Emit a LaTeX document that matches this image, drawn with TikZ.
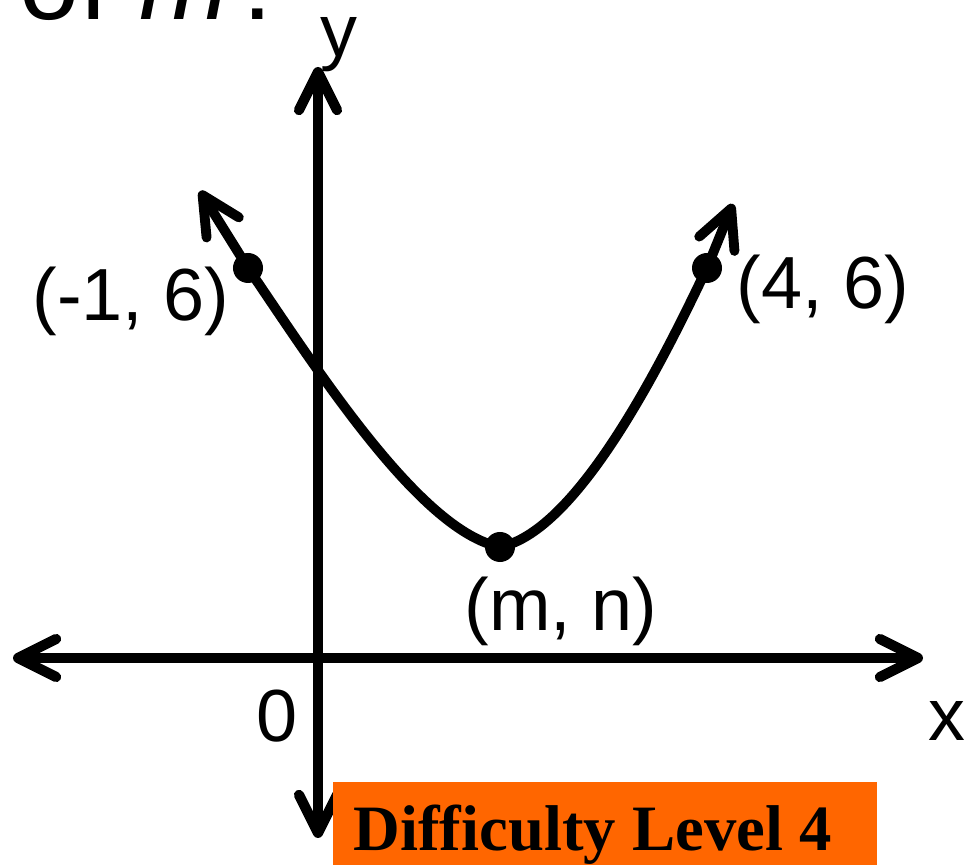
\documentclass[tikz,border=0pt]{standalone}
\usepackage{fontspec}
\setmainfont{Liberation Sans}
\newfontfamily\levelfont{Liberation Serif}
\usepackage{xcolor}
\usepackage{tikz}
\usetikzlibrary{arrows.meta, positioning}
\definecolor{levelorange}{RGB}{255,102,0}
\tikzset{
  axisline/.style={line width=2.9pt, <->},
  curveline/.style={line width=2.8pt, <->},
  dot/.style={circle, fill=black, inner sep=0pt, minimum size=0.3cm},
  coordlabel/.style={font=\fontsize{21}{25}\selectfont, inner sep=0pt},
  heading/.style={font=\fontsize{30.7}{36}\selectfont, inner sep=0pt, anchor=base west},
  leveltext/.style={font=\levelfont\bfseries\fontsize{18.4}{22}\selectfont, inner sep=0pt, anchor=base west},
}

\begin{document}
\begin{tikzpicture}[x=0.01cm, y=-0.01cm, >={Straight Barb[length=3.8mm, width=3.8mm, round]}]
  \useasboundingbox (0,0) rectangle (964,865);
  \clip (0,0) rectangle (964,865);

  % cut-off question text at the top
  \node[heading] (question) at (19,20) {of \textit{m}?};

  % axes
  \coordinate (xleft) at (13,658);
  \coordinate (xright) at (923,658);
  \coordinate (ybottom) at (318,838);
  \coordinate (ytop) at (318,67);
  \draw[axisline] (xleft) -- (xright);
  \draw[axisline] (ybottom) -- (ytop);

  \node[coordlabel] (ylabel) at (339,45) {y};
  \node[coordlabel] (xlabel) at (947,721) {x};
  \node[coordlabel] (origin) at (277,716) {0};

  % points on the graph
  \node[dot] (ptA) at (248,268) {};
  \node[dot] (ptB) at (707,268) {};
  \node[dot] (vertex) at (500,547) {};

  \coordinate (lefttip) at (200,191);
  \coordinate (righttip) at (733,204);
  \draw[curveline] (lefttip) -- (ptA.center)
    .. controls (318,371) and (420,531) .. (vertex.center)
    .. controls (580,531) and (667,352) .. (ptB.center) -- (righttip);

  \node[coordlabel] (labA) at (131,301) {(-1, 6)};
  \node[coordlabel] (labB) at (823,289) {(4, 6)};
  \node[coordlabel] (labV) at (561,611) {(m, n)};

  % difficulty tag
  \fill[levelorange] (333,782) rectangle (877,880);
  \node[leveltext] (level) at (353,851) {Difficulty Level 4};
\end{tikzpicture}
\end{document}
